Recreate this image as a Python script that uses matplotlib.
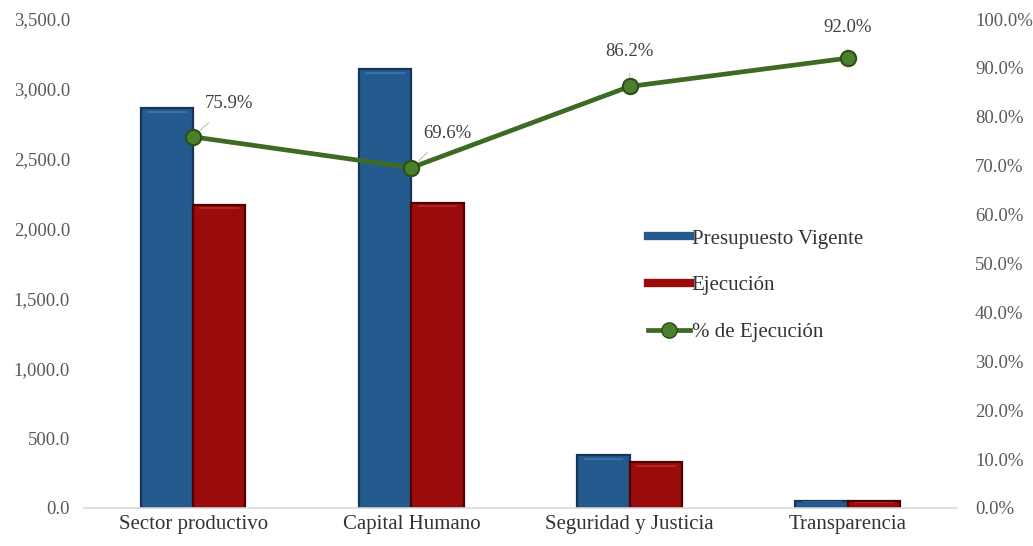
import matplotlib.pyplot as plt
from matplotlib.lines import Line2D
from matplotlib.ticker import FuncFormatter
import numpy as np

plt.rcParams['font.family'] = ['Liberation Serif', 'DejaVu Serif']

categorias = ['Sector productivo', 'Capital Humano', 'Seguridad y Justicia', 'Transparencia']
presupuesto = [2860.0, 3140.0, 378.0, 52.0]
ejecucion = [2171.0, 2185.0, 326.0, 48.0]
pct_ejecucion = [75.9, 69.6, 86.2, 92.0]

azul, azul_borde, azul_brillo = '#245a8e', '#15365a', '#4f82b8'
rojo, rojo_borde, rojo_brillo = '#9a0b0b', '#4f0000', '#c93b3b'
verde, verde_borde = '#3d6b24', '#2a4f17'
gris_txt = '#595959'

fig = plt.figure(figsize=[10.33, 5.46], dpi=100)
ax = fig.add_axes([0.0813, 0.0696, 0.8451, 0.8956])
ax2 = ax.twinx()

x = np.arange(len(categorias))
w = 0.24

def barras_3d(xpos, vals, color, borde, brillo):
    ax.bar(xpos, vals, w, align='edge', color=color, edgecolor=borde, lw=1.6, zorder=2)
    # brillo en la parte superior de cada barra
    for xi, v in zip(xpos, vals):
        h = min(45.0, v * 0.25)
        ax.bar(xi + w * 0.12, h * 0.35, w * 0.76, bottom=v - h * 0.75, align='edge',
               color=brillo, lw=0, alpha=0.55, zorder=3)

barras_3d(x - w, presupuesto, azul, azul_borde, azul_brillo)
barras_3d(x, ejecucion, rojo, rojo_borde, rojo_brillo)

ax.set_xlim(-0.5, 3.5)
ax.set_ylim(0, 3500)
ax.set_yticks(np.arange(0, 3501, 500))
ax.yaxis.set_major_formatter(FuncFormatter(lambda v, p: f'{v:,.1f}'))
ax.set_xticks(x)
ax.set_xticklabels(categorias, fontsize=15, color='#333333')
ax.tick_params(axis='y', labelsize=13.5, labelcolor=gris_txt, length=0, pad=10)
ax.tick_params(axis='x', length=0, pad=5)
for s in ['top', 'right', 'left']:
    ax.spines[s].set_visible(False)
ax.spines['bottom'].set_color('#d9d9d9')
ax.spines['bottom'].set_linewidth(1.2)

ax2.plot(x, pct_ejecucion, color=verde, lw=3.4, marker='o', ms=11,
         mfc='#4a7f2e', mec=verde_borde, mew=1.5, zorder=5)
ax2.set_ylim(0, 100)
ax2.set_yticks(np.arange(0, 101, 10))
ax2.yaxis.set_major_formatter(FuncFormatter(lambda v, p: f'{v:.1f}%'))
ax2.tick_params(axis='y', labelsize=13.5, labelcolor=gris_txt, length=0, pad=13)
for s in ax2.spines.values():
    s.set_visible(False)

# etiquetas de porcentaje
offsets = [(36, 33), (36, 34), (0, 35), (0, 31)]
for xi, p, (dx, dy) in zip(x, pct_ejecucion, offsets):
    ax2.annotate(f'{p:.1f}%', (xi, p), xytext=(dx, dy), textcoords='offset pixels',
                 ha='center', va='center', fontsize=13.5, color='#404040',
                 arrowprops=dict(arrowstyle='-', color='#bfbfbf', lw=0.8,
                                 shrinkA=8, shrinkB=7))

handles = [Line2D([0], [0], color=azul, lw=6),
           Line2D([0], [0], color=rojo, lw=6),
           Line2D([0], [0], color=verde, lw=3.4, marker='o', ms=11,
                  mfc='#4a7f2e', mec=verde_borde)]
ax2.legend(handles, ['Presupuesto Vigente', 'Ejecución', '% de Ejecución'],
           loc='upper left', bbox_to_anchor=(0.609, 0.615), bbox_transform=fig.transFigure,
           frameon=False, fontsize=15, handlelength=2.0, handletextpad=0.1,
           labelspacing=1.3, labelcolor='#333333')

fig.savefig('out.png', dpi=100)
